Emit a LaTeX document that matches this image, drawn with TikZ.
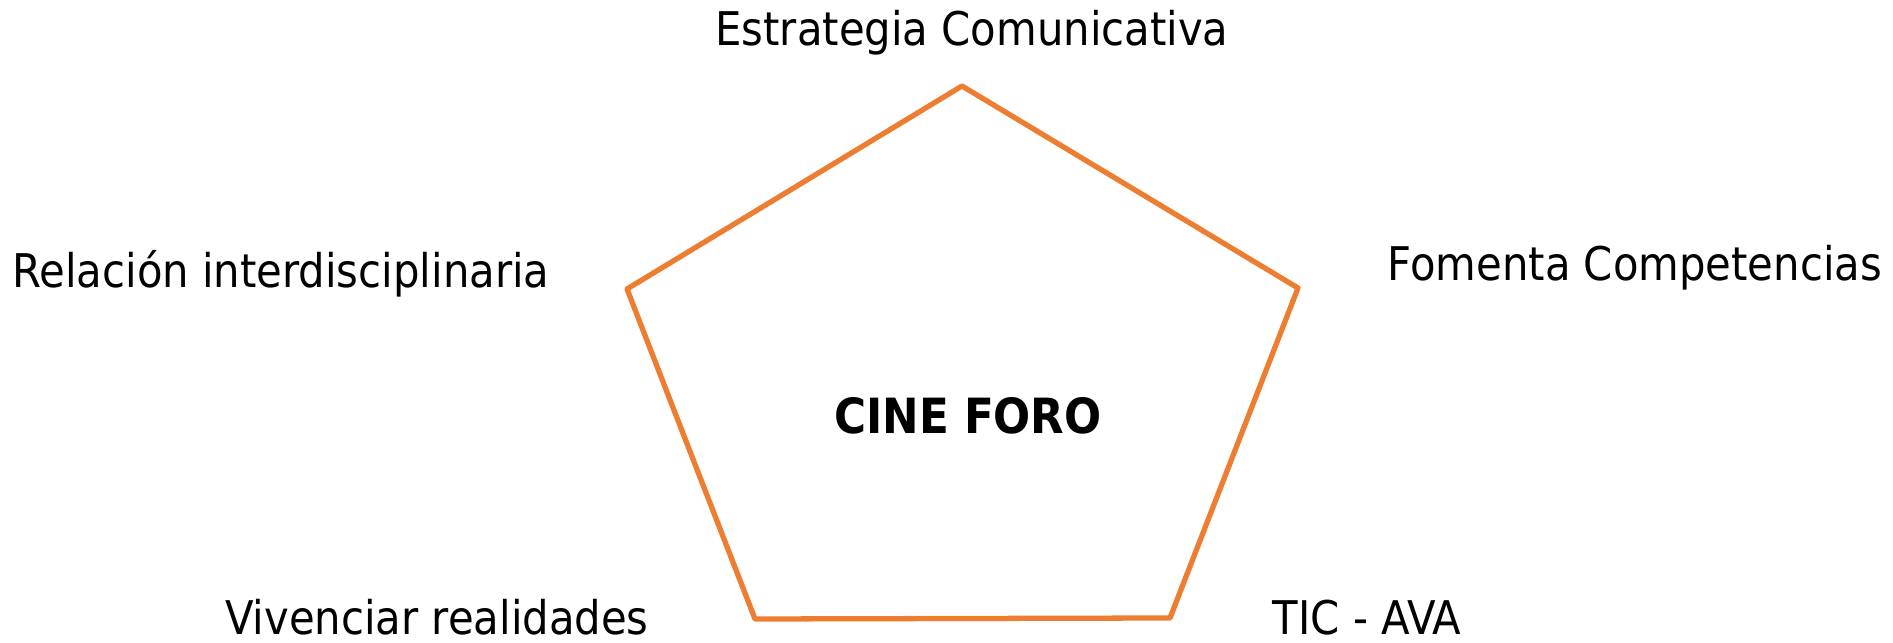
\documentclass[tikz,border=0pt]{standalone}
\usepackage{fontspec}
\setmainfont{DejaVu Sans Condensed}
\definecolor{pentorange}{HTML}{ED7D31}
\tikzset{
	lado/.style={draw=pentorange,line width=1.5pt,line join=round},
	etiqueta/.style={inner sep=0pt,font=\fontsize{13.2}{16}\selectfont},
	titulo/.style={inner sep=0pt,font=\fontsize{13.8}{16}\selectfont\bfseries}
}
\begin{document}
\begin{tikzpicture}[x=0.01cm,y=-0.01cm]
		\useasboundingbox (0,0) rectangle (1893,643);

		\coordinate (arriba) at (962,86);
		\coordinate (der) at (1298,288);
		\coordinate (abder) at (1170,618);
		\coordinate (abizq) at (755,619);
		\coordinate (izq) at (627,289);

		\draw[lado] (arriba) -- (der) -- (abder) -- (abizq) -- (izq) -- cycle;

		\node[titulo,anchor=base] (cine) at (968,434) {CINE FORO};

		\node[etiqueta,anchor=base] (estrategia) at (972,46) {Estrategia Comunicativa};
		\node[etiqueta,anchor=base] (fomenta) at (1635,281) {Fomenta Competencias};
		\node[etiqueta,anchor=base] (tic) at (1367,635) {TIC - AVA};
		\node[etiqueta,anchor=base] (vivenciar) at (437,635) {Vivenciar realidades};
		\node[etiqueta,anchor=base] (relacion) at (281,288) {Relación interdisciplinaria};
	\end{tikzpicture}
\end{document}
